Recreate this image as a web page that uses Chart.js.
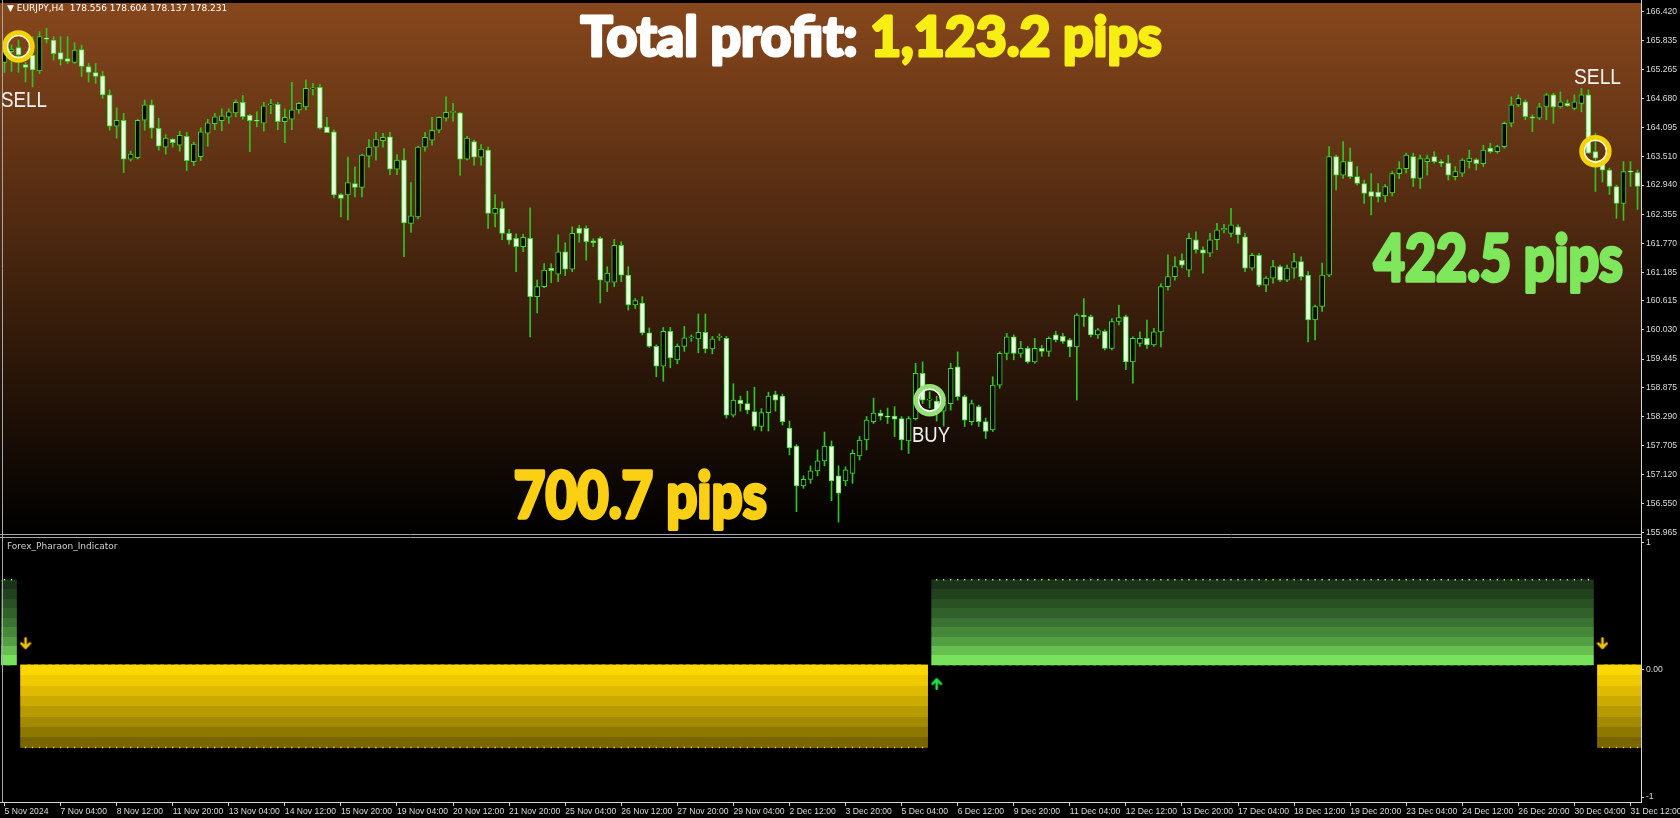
<!DOCTYPE html>
<html>
<head>
<meta charset="utf-8">
<script src="https://cdn.jsdelivr.net/npm/chart.js@4.4.1/dist/chart.umd.min.js"></script>
<style>
  html, body { margin: 0; padding: 0; background: #000; overflow: hidden; }
  #wrap { position: relative; width: 1680px; height: 818px; }
  canvas { position: absolute; left: 0; }
  #priceChart { top: 0; }
  #indChart { top: 537px; }
</style>
</head>
<body>
<div id="wrap">
  <canvas id="priceChart" width="1680" height="537" style="width:1680px;height:537px"></canvas>
  <canvas id="indChart" width="1680" height="281" style="width:1680px;height:281px"></canvas>
</div>
<script>
// EURJPY H4, 5 Nov 2024 20:00 .. 31 Dec 2024 16:00 (234 bars)
const opens = [
  165.40,165.62,165.70,165.36,165.55,165.23,165.89,165.85,165.60,165.48,
  165.40,165.66,165.32,165.20,165.13,164.75,164.12,164.24,163.46,163.49,
  164.24,164.55,164.08,163.70,163.86,163.74,163.92,163.41,163.51,163.98,
  164.17,164.23,164.30,164.39,164.60,164.34,164.23,164.18,164.55,164.56,
  164.21,164.26,164.45,164.51,164.87,164.90,164.11,164.01,162.75,162.74,
  162.97,162.89,163.52,163.70,163.83,163.91,163.26,163.44,162.17,162.30,
  163.70,163.84,164.04,164.28,164.40,164.39,163.46,163.81,163.50,163.64,
  162.37,162.47,161.97,161.87,161.70,161.87,160.70,160.90,161.27,161.15,
  161.60,161.25,162.07,162.07,161.82,161.87,160.99,160.99,161.73,161.13,
  160.53,160.57,159.97,159.70,159.30,160.00,159.43,159.70,159.87,159.85,
  159.98,159.65,159.88,159.86,158.32,158.62,158.55,158.39,158.09,158.37,
  158.73,158.70,158.06,157.70,156.90,157.03,157.20,157.40,157.70,157.10,
  157.00,157.15,157.50,157.82,158.19,158.36,158.29,158.30,158.25,157.80,
  158.25,159.16,158.62,158.60,158.40,158.55,159.29,158.69,158.19,158.49,
  158.19,158.02,158.92,159.56,159.89,159.56,159.66,159.39,159.66,159.60,
  159.93,159.90,159.83,159.69,160.33,160.30,159.93,160.00,159.66,160.20,
  160.30,159.39,159.76,159.86,159.73,159.99,160.90,161.10,161.43,161.23,
  161.84,161.64,161.57,161.84,162.04,161.97,162.10,161.90,161.27,161.53,
  160.93,161.07,161.30,161.03,161.27,161.40,161.13,160.23,160.50,161.13,
  163.51,163.14,163.41,163.11,162.97,162.81,162.80,162.72,162.78,163.17,
  163.27,163.51,163.07,163.41,163.51,163.41,163.38,163.11,163.18,163.41,
  163.45,163.37,163.68,163.61,163.71,164.18,164.55,164.61,164.31,164.28,
  164.51,164.75,164.51,164.58,164.48,164.58,164.75,163.61,163.38,163.24,
  162.91,162.57,163.21,163.19
];
const highs = [
  165.85,165.75,165.85,165.40,165.92,166.02,166.09,165.92,165.92,165.92,
  165.80,165.75,165.38,165.38,165.22,164.85,164.49,164.38,163.62,164.26,
  164.65,164.65,164.28,163.95,163.87,164.02,164.00,163.80,164.09,164.26,
  164.38,164.47,164.47,164.65,164.74,164.36,164.41,164.60,164.66,164.60,
  164.47,165.00,164.60,165.05,164.98,164.96,164.30,164.05,162.77,163.50,
  163.30,163.56,163.85,164.00,163.98,164.00,163.55,163.67,162.99,163.72,
  164.00,164.30,164.31,164.71,164.58,164.40,163.92,163.84,163.75,163.70,
  162.75,162.60,162.05,161.96,161.95,162.48,161.03,161.36,161.36,161.94,
  161.78,162.10,162.13,162.12,161.86,161.90,161.30,161.85,161.80,161.30,
  160.66,160.70,160.07,159.73,160.08,160.08,159.75,160.10,159.93,160.35,
  160.35,159.90,159.95,159.90,158.95,158.70,158.80,158.88,158.45,158.78,
  158.80,158.74,158.20,157.73,157.10,157.30,157.62,157.98,157.80,157.30,
  157.28,157.62,157.89,158.29,158.66,158.42,158.46,158.49,158.29,158.29,
  159.36,159.39,158.79,158.70,158.65,159.36,159.59,158.72,158.62,158.52,
  158.26,159.09,159.59,159.96,159.93,159.80,159.70,159.86,159.72,159.89,
  160.00,159.96,159.86,160.36,160.66,160.33,160.06,160.03,160.26,160.53,
  160.33,159.89,159.99,160.23,160.06,160.96,161.54,161.50,161.56,161.97,
  162.00,161.70,161.97,162.17,162.15,162.47,162.14,161.97,161.57,161.57,
  161.10,161.43,161.33,161.33,161.57,161.50,161.20,160.53,161.37,163.71,
  163.54,163.81,163.68,163.31,163.04,163.17,162.97,162.95,163.21,163.41,
  163.58,163.58,163.54,163.54,163.61,163.45,163.54,163.31,163.47,163.64,
  163.47,163.74,163.78,163.74,164.21,164.71,164.75,164.65,164.35,164.58,
  164.78,164.78,164.81,164.65,164.75,164.88,164.85,163.98,163.45,163.28,
  162.94,163.41,163.41,163.24
];
const lows = [
  165.20,165.22,165.20,165.01,164.91,165.18,165.79,165.45,165.35,165.38,
  165.38,165.12,165.01,164.98,164.68,164.04,163.88,163.19,163.42,163.46,
  164.04,163.88,163.64,163.56,163.70,163.62,163.23,163.33,163.43,163.72,
  164.05,164.03,164.18,164.31,164.26,163.61,164.11,164.02,164.37,164.05,
  163.79,164.05,164.38,164.45,164.75,164.06,163.99,162.68,162.30,162.24,
  162.70,162.70,163.30,163.44,163.70,163.15,163.15,161.50,161.99,162.26,
  163.62,163.74,163.99,164.22,164.22,163.14,163.44,163.34,163.34,162.07,
  162.10,161.84,161.75,161.20,161.60,159.89,160.37,160.88,160.98,161.00,
  161.12,161.20,161.79,161.43,161.70,160.57,160.80,160.90,161.00,160.43,
  160.46,159.93,159.68,159.09,159.00,159.27,159.35,159.60,159.80,159.57,
  159.57,159.55,159.82,158.26,158.28,158.40,158.35,158.02,158.00,158.00,
  158.40,158.12,157.52,156.38,156.85,156.95,157.10,157.30,156.60,156.17,
  156.90,156.95,157.42,157.62,158.15,158.22,158.15,157.89,157.62,157.55,
  158.22,158.55,158.46,158.20,158.10,158.42,158.62,158.09,158.12,158.09,
  157.85,157.99,158.86,159.43,159.43,159.48,159.36,159.36,159.50,159.50,
  159.79,159.76,159.49,158.62,160.10,159.89,159.86,159.63,159.63,160.13,
  159.23,158.96,159.70,159.66,159.70,159.69,160.83,161.03,161.28,161.10,
  161.57,161.17,161.50,161.64,161.98,161.90,161.77,161.20,161.23,160.90,
  160.80,160.97,161.00,161.00,161.07,161.03,159.79,159.83,160.40,161.10,
  162.84,163.07,163.07,162.94,162.57,162.34,162.60,162.60,162.72,163.07,
  163.18,162.91,162.87,163.14,163.38,163.31,163.04,163.04,163.11,163.28,
  163.24,163.31,163.58,163.58,163.68,164.11,164.51,164.25,164.01,164.25,
  164.25,164.18,164.48,164.52,164.45,164.41,163.58,162.81,163.00,162.75,
  162.27,162.23,162.91,162.45
];
const closes = [
  165.62,165.66,165.55,165.30,165.25,165.92,165.87,165.58,165.46,165.42,
  165.65,165.32,165.20,165.12,164.75,164.12,164.24,163.46,163.56,164.24,
  164.55,164.08,163.72,163.88,163.79,163.94,163.43,163.76,164.01,164.19,
  164.31,164.33,164.41,164.60,164.31,164.23,164.22,164.53,164.57,164.21,
  164.30,164.45,164.58,164.88,164.89,164.08,163.99,162.74,162.67,162.99,
  162.89,163.54,163.70,163.86,163.90,163.26,163.44,162.18,162.32,163.70,
  163.90,164.04,164.30,164.40,164.41,163.46,163.88,163.50,163.66,162.37,
  162.47,161.97,161.83,161.70,161.89,160.70,160.90,161.23,161.22,161.60,
  161.25,161.97,161.97,161.80,161.78,161.03,161.17,161.73,161.13,160.53,
  160.62,159.97,159.70,159.30,160.00,159.47,159.70,159.87,159.88,159.98,
  159.65,159.85,159.90,158.32,158.62,158.55,158.42,158.09,158.37,158.70,
  158.62,158.19,157.66,156.90,157.03,157.20,157.40,157.70,157.00,156.75,
  157.22,157.55,157.82,158.22,158.36,158.30,158.28,158.24,157.82,158.25,
  159.16,158.62,158.64,158.40,158.55,159.26,158.69,158.22,158.55,158.19,
  157.99,158.92,159.56,159.89,159.56,159.66,159.39,159.66,159.60,159.86,
  159.83,159.80,159.69,160.33,160.29,159.93,160.03,159.66,160.20,160.28,
  159.39,159.86,159.86,159.73,159.99,160.90,161.10,161.30,161.33,161.87,
  161.64,161.57,161.84,162.04,162.07,162.14,161.94,161.27,161.53,160.93,
  161.07,161.30,161.03,161.27,161.40,161.10,160.23,160.50,161.13,163.51,
  163.14,163.41,163.11,162.97,162.77,162.71,162.70,162.91,163.17,163.27,
  163.54,163.07,163.47,163.47,163.41,163.38,163.14,163.21,163.44,163.48,
  163.37,163.64,163.61,163.71,164.18,164.55,164.68,164.31,164.28,164.51,
  164.75,164.51,164.61,164.53,164.61,164.75,163.58,163.48,163.24,162.91,
  162.57,163.21,163.20,162.91
];

// tick labels of the time axis, one every 8 bars
const timeLabels = [
  '5 Nov 2024','7 Nov 04:00','8 Nov 12:00','11 Nov 20:00','13 Nov 04:00','14 Nov 12:00',
  '15 Nov 20:00','19 Nov 04:00','20 Nov 12:00','21 Nov 20:00','25 Nov 04:00','26 Nov 12:00',
  '27 Nov 20:00','29 Nov 04:00','2 Dec 12:00','3 Dec 20:00','5 Dec 04:00','6 Dec 12:00',
  '9 Dec 20:00','11 Dec 04:00','12 Dec 12:00','13 Dec 20:00','17 Dec 04:00','18 Dec 12:00',
  '19 Dec 20:00','23 Dec 04:00','24 Dec 12:00','26 Dec 20:00','30 Dec 04:00','31 Dec 12:00'
];
const priceTicks = [166.420,165.835,165.265,164.680,164.095,163.510,162.940,162.355,161.770,
  161.185,160.615,160.030,159.445,158.875,158.290,157.705,157.120,156.550,155.965];
const indTicks = [1, 0, -1];

// indicator state runs (bar index ranges)
const upRuns = [[0, 1], [133, 226]];
const downRuns = [[3, 131], [228, 233]];
const upLevel = 0.71;
const downLevel = -0.61;
const histBase = 0.04;
const sellArrowBars = [3, 228];
const buyArrowBars = [133];
const sellArrowLevel = 0.21;
const buyArrowLevel = -0.11;

// signal circles on the price chart
const sellSignalBars = [2, 227];
const sellSignalPrices = [165.72, 163.62];
const buySignalBars = [132];
const buySignalPrices = [158.62];

const nBars = opens.length;
const categories = opens.map((_, i) => (i % 8 === 0 ? timeLabels[i / 8] || '' : ''));

const AXIS_W = 39;
// fixed axis width, and no extra label padding so the plot keeps its full height
const fixAxis = (s) => { s.width = AXIS_W; s.paddingTop = 0; s.paddingBottom = 0; };

function runsToData(runs, top) {
  const arr = new Array(nBars).fill(null);
  runs.forEach(([a, b]) => { for (let i = a; i <= b; i++) arr[i] = [histBase, top]; });
  return arr;
}
function runsToDots(runs, top) {
  const arr = new Array(nBars).fill(null);
  runs.forEach(([a, b]) => { for (let i = a; i <= b; i++) arr[i] = top; });
  return arr;
}
function marksAt(bars, levels) {
  const arr = new Array(nBars).fill(null);
  bars.forEach((b, j) => { arr[b] = Array.isArray(levels) ? levels[j] : levels; });
  return arr;
}

function makeArrow(color, down) {
  const c = document.createElement('canvas');
  c.width = 12; c.height = 13;
  const g = c.getContext('2d');
  g.strokeStyle = color; g.lineWidth = 2.6; g.lineCap = 'round'; g.lineJoin = 'round';
  g.beginPath();
  if (down) { g.moveTo(6, 1.5); g.lineTo(6, 11); g.moveTo(1.8, 6.6); g.lineTo(6, 11); g.lineTo(10.2, 6.6); }
  else { g.moveTo(6, 11.5); g.lineTo(6, 2); g.moveTo(1.8, 6.4); g.lineTo(6, 2); g.lineTo(10.2, 6.4); }
  g.stroke();
  return c;
}

function bandGradient(chart, from, to, colors) {
  const y = chart.scales.y;
  const y0 = y.getPixelForValue(from), y1 = y.getPixelForValue(to);
  const g = chart.ctx.createLinearGradient(0, y0, 0, y1);
  const n = colors.length;
  colors.forEach((c, i) => { g.addColorStop(i / n, c); g.addColorStop((i + 1) / n - 0.0001, c); });
  return g;
}
const greenBands = ['#1b3318', '#22421e', '#295124', '#31612a', '#3a7331', '#458839', '#53a044', '#66bf4f', '#78e25a'];
const yellowBands = ['#fdd800', '#efca00', '#debb00', '#cbab00', '#b89b00', '#a48a00', '#8f7800', '#7a6600'];

function heavyText(ctx, text, x, color, stroke) {
  ctx.fillStyle = color;
  ctx.strokeStyle = color;
  ctx.lineWidth = stroke;
  ctx.lineJoin = 'round';
  if (stroke > 0) ctx.strokeText(text, x, 0);
  ctx.fillText(text, x, 0);
}

function drawFit(ctx, text, x, base, width, size, family, weight, color, stroke = 0) {
  ctx.save();
  ctx.font = `${weight} ${size}px ${family}`;
  const w = ctx.measureText(text).width + stroke;
  ctx.translate(x + stroke / 2, base);
  ctx.scale(width / w, 1);
  ctx.textBaseline = 'alphabetic';
  ctx.textAlign = 'left';
  heavyText(ctx, text, 0, color, stroke);
  ctx.restore();
}

const BIG_FONT = 'Lato';

const pricePane = {
  id: 'pricePane',
  beforeDraw(chart) {
    const { ctx, chartArea: a } = chart;
    const g = ctx.createLinearGradient(0, a.top, 0, a.bottom);
    g.addColorStop(0, '#87471c');
    g.addColorStop(1, '#000000');
    ctx.save();
    ctx.fillStyle = g;
    ctx.fillRect(0, a.top, a.right, a.bottom - a.top);
    ctx.restore();
  },
  afterDraw(chart) {
    const { ctx, chartArea: a } = chart;
    ctx.save();
    ctx.strokeStyle = '#a8a8a8'; ctx.lineWidth = 1;
    ctx.beginPath();
    ctx.moveTo(2.5, 0); ctx.lineTo(2.5, 537);
    ctx.moveTo(0, 534.5); ctx.lineTo(a.right + 1, 534.5);
    ctx.stroke();
    ctx.strokeStyle = '#d6d6d6';
    ctx.beginPath(); ctx.moveTo(1641.5, 0); ctx.lineTo(1641.5, 537); ctx.stroke();

    ctx.fillStyle = '#ffffff';
    ctx.font = '9px "DejaVu Sans"';
    ctx.textBaseline = 'middle';
    ctx.fillText('\u25BC EURJPY,H4  178.556 178.604 178.137 178.231', 7, 9);

    drawFit(ctx, 'SELL', 1, 107, 46, 22, '"Liberation Sans"', 'normal', '#f2f2f2');
    drawFit(ctx, 'SELL', 1574, 84, 47, 22, '"Liberation Sans"', 'normal', '#f2f2f2');
    drawFit(ctx, 'BUY', 912, 442, 38, 22, '"Liberation Sans"', 'normal', '#f2f2f2');

    // headline
    const stroke = 3;
    ctx.font = `900 56px ${BIG_FONT}`;
    const p1 = 'Total profit: ', p2 = '1,123.2 pips';
    const w1 = ctx.measureText(p1).width, w2 = ctx.measureText(p2).width;
    const sx = 584 / (w1 + w2 + stroke);
    ctx.save();
    ctx.translate(579 + stroke / 2, 56); ctx.scale(sx, 1);
    ctx.textBaseline = 'alphabetic';
    heavyText(ctx, p1, 0, '#ffffff', stroke);
    heavyText(ctx, p2, w1, '#f7ee14', stroke);
    ctx.restore();

    drawFit(ctx, '700.7 pips', 512, 518, 256, 64, BIG_FONT, 900, '#fbcf14', 3.5);
    drawFit(ctx, '422.5 pips', 1372, 281, 252, 64, BIG_FONT, 900, '#7ee75b', 3.5);
    ctx.restore();
  }
};

const indPane = {
  id: 'indPane',
  afterDraw(chart) {
    const { ctx, chartArea: a } = chart;
    ctx.save();
    ctx.strokeStyle = '#a8a8a8'; ctx.lineWidth = 1;
    ctx.beginPath();
    ctx.moveTo(0, 0.5); ctx.lineTo(a.right + 1, 0.5);
    ctx.moveTo(2.5, 0); ctx.lineTo(2.5, a.bottom);
    ctx.stroke();
    ctx.strokeStyle = '#d6d6d6';
    ctx.beginPath();
    ctx.moveTo(1641.5, 0); ctx.lineTo(1641.5, a.bottom + 0.5);
    ctx.moveTo(0, a.bottom + 0.5); ctx.lineTo(1642, a.bottom + 0.5);
    ctx.stroke();
    ctx.fillStyle = '#d0d0d0';
    ctx.font = '9px "DejaVu Sans"';
    ctx.textBaseline = 'middle';
    ctx.fillText('Forex_Pharaon_Indicator', 7, 10);
    ctx.restore();
  }
};

const bull = opens.map((o, i) => closes[i] >= o);

const ring = (label, bars, prices, r, w, color) => ({
  type: 'line', label, data: marksAt(bars, prices), order: 0,
  showLine: false, pointRadius: r, pointBorderWidth: w,
  pointBorderColor: color, pointBackgroundColor: 'rgba(0,0,0,0)'
});

new Chart(document.getElementById('priceChart'), {
  type: 'bar',
  data: {
    labels: categories,
    datasets: [
      ring('sell', sellSignalBars, sellSignalPrices, 14, 4.5, '#f4d400'),
      ring('sellInner', sellSignalBars, sellSignalPrices, 11.2, 2, '#fff8c8'),
      ring('buy', buySignalBars, buySignalPrices, 14, 4.5, '#94e276'),
      ring('buyInner', buySignalBars, buySignalPrices, 11.2, 2, '#f2fff0'),
      {
        label: 'body', order: 2, grouped: false,
        data: opens.map((o, i) => [o, closes[i]]),
        barThickness: 5, minBarLength: 1, borderWidth: 1, borderSkipped: false,
        borderColor: '#3fdc2c',
        backgroundColor: bull.map(b => (b ? '#020600' : '#e9ffe3'))
      },
      {
        label: 'wick', order: 3, grouped: false,
        data: lows.map((l, i) => [l, highs[i]]),
        barThickness: 1, borderWidth: 0,
        backgroundColor: '#30c424'
      }
    ]
  },
  options: {
    responsive: false,
    animation: false,
    devicePixelRatio: 1,
    layout: { autoPadding: false, padding: { left: 1, right: 0, top: 3, bottom: 3 } },
    plugins: { legend: { display: false }, tooltip: { enabled: false } },
    scales: {
      x: { display: false, offset: true },
      y: {
        position: 'right',
        min: 155.932,
        max: 166.595,
        afterFit: fixAxis,
        afterBuildTicks: (s) => { s.ticks = priceTicks.map(v => ({ value: v })); },
        grid: { display: true, drawOnChartArea: false, color: '#d6d6d6', tickLength: 3 },
        border: { display: false },
        ticks: {
          color: '#dcdcdc', padding: 2,
          font: { family: 'Liberation Sans', size: 8.6 },
          callback: (v) => Number(v).toFixed(3)
        }
      }
    }
  },
  plugins: [pricePane]
});

const sellArrowImg = makeArrow('#f2c200', true);
const buyArrowImg = makeArrow('#22e348', false);

new Chart(document.getElementById('indChart'), {
  type: 'bar',
  data: {
    labels: categories,
    datasets: [
      {
        type: 'line', label: 'sellArrow', data: marksAt(sellArrowBars, sellArrowLevel), order: 0,
        showLine: false, pointStyle: sellArrowImg
      },
      {
        type: 'line', label: 'buyArrow', data: marksAt(buyArrowBars, buyArrowLevel), order: 0,
        showLine: false, pointStyle: buyArrowImg
      },
      {
        type: 'line', label: 'upDots', data: runsToDots(upRuns, upLevel), order: 1,
        showLine: false, pointStyle: 'rect', pointRadius: 1, pointBorderWidth: 0,
        pointBackgroundColor: '#a6f07e'
      },
      {
        type: 'line', label: 'downDots', data: runsToDots(downRuns, downLevel), order: 1,
        showLine: false, pointStyle: 'rect', pointRadius: 1, pointBorderWidth: 0,
        pointBackgroundColor: '#f5cf1a'
      },
      {
        label: 'up', order: 2, grouped: false, data: runsToData(upRuns, upLevel),
        barThickness: 10, borderWidth: 0,
        backgroundColor: (c) => (c.chart.chartArea ? bandGradient(c.chart, upLevel, histBase, greenBands) : '#4a8a3a')
      },
      {
        label: 'down', order: 2, grouped: false, data: runsToData(downRuns, downLevel),
        barThickness: 10, borderWidth: 0,
        backgroundColor: (c) => (c.chart.chartArea ? bandGradient(c.chart, histBase, downLevel, yellowBands) : '#c8a800')
      }
    ]
  },
  options: {
    responsive: false,
    animation: false,
    devicePixelRatio: 1,
    layout: { autoPadding: false, padding: { left: 1, right: 0, top: 2, bottom: 0 } },
    plugins: { legend: { display: false }, tooltip: { enabled: false } },
    scales: {
      x: {
        offset: true,
        afterFit: (s) => { s.height = 16; s.paddingLeft = 0; s.paddingRight = 0; },
        grid: {
          offset: false, drawOnChartArea: false, tickLength: 4,
          color: (c) => (categories[c.index] ? '#d6d6d6' : 'rgba(0,0,0,0)')
        },
        border: { display: false },
        ticks: {
          autoSkip: false, maxRotation: 0, minRotation: 0, align: 'start', padding: 0,
          color: '#dcdcdc', font: { family: 'Liberation Sans', size: 8.6 },
          callback: (v, i) => categories[i]
        }
      },
      y: {
        position: 'right',
        min: -1.039,
        max: 1.031,
        afterFit: fixAxis,
        afterBuildTicks: (s) => { s.ticks = indTicks.map(v => ({ value: v })); },
        grid: { display: true, drawOnChartArea: false, color: '#d6d6d6', tickLength: 3 },
        border: { display: false },
        ticks: {
          color: '#dcdcdc', padding: 2,
          font: { family: 'Liberation Sans', size: 8.6 },
          callback: (v) => (v === 0 ? '0.00' : String(v))
        }
      }
    }
  },
  plugins: [indPane]
});
</script>
</body>
</html>
